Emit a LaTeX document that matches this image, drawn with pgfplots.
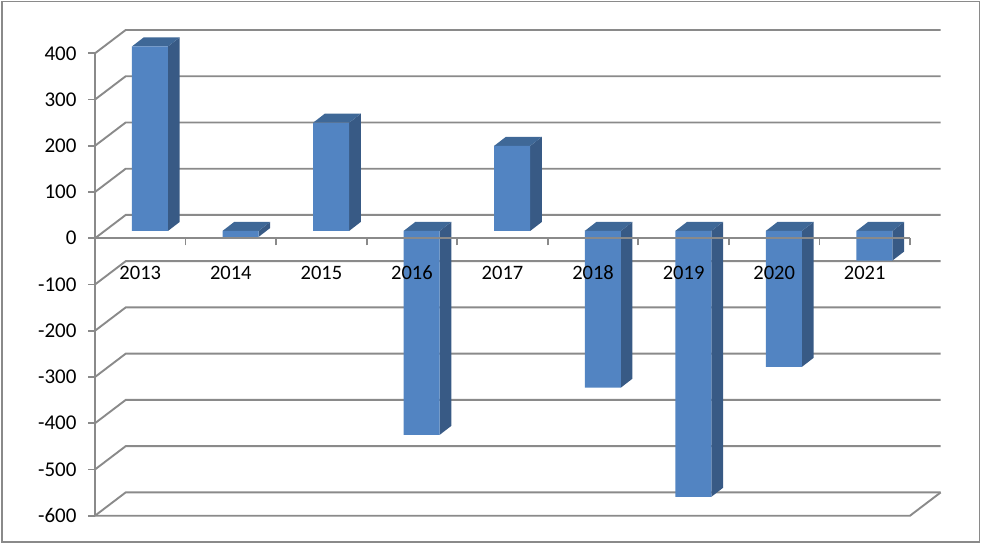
\documentclass[border=0pt]{standalone}
\usepackage{pgfplots}
\usepackage{pgfplotstable}
\usepackage{fontspec}
\setmainfont{Carlito}
\pgfplotsset{compat=1.18}
\definecolor{barfront}{HTML}{5284C2}
\definecolor{barside}{HTML}{385A85}
\definecolor{bartop}{HTML}{3F6897}
\definecolor{gridgray}{HTML}{8A8A8A}
\pgfplotstableread{
cat value
1 399
2 -13
3 234
4 -441
5 184
6 -339
7 -575
8 -294
9 -64
}\bardata
% depth offsets, in axis units
\def\bx{0.107}\def\by{15.8}\def\hw{0.199}\def\dx{0.129}\def\dy{19.5}
\newcommand\barsides[2]{%
  \pgfmathsetmacro\xa{#1+\bx-\hw}\pgfmathsetmacro\xb{#1+\bx+\hw}%
  \pgfmathsetmacro\xc{\xb+\dx}\pgfmathsetmacro\xd{\xa+\dx}%
  \pgfmathsetmacro\ya{\by}\pgfmathsetmacro\yb{#2+\by}%
  \pgfmathsetmacro\yhi{max(\ya,\yb)}%
  \pgfmathsetmacro\yhib{\yhi+\dy}%
  \pgfmathsetmacro\yab{\ya+\dy}\pgfmathsetmacro\ybb{\yb+\dy}%
  \edef\temp{%
    \noexpand\addplot[fill=barside,draw=none,forget plot] coordinates {(\xb,\ya) (\xc,\yab) (\xc,\ybb) (\xb,\yb)} --cycle;
    \noexpand\addplot[fill=bartop,draw=none,forget plot] coordinates {(\xa,\yhi) (\xb,\yhi) (\xc,\yhib) (\xd,\yhib)} --cycle;
  }\temp}
\newcommand\wall[1]{%
  \pgfmathsetmacro\vb{#1+50.4}%
  \edef\temp{\noexpand\addplot[gridgray,line width=1.9pt,forget plot] coordinates {(0.5,#1) (0.839,\vb) (9.839,\vb)};}\temp}
\begin{document}
\begin{tikzpicture}[x=1pt,y=1pt]
\path[use as bounding box] (0,0) rectangle (981,543);
\draw[gridgray,line width=1.7pt] (1.8,1.2) rectangle (979.4,541.6);
\begin{axis}[
  at={(95pt,27.3pt)},anchor=south west,
  scale only axis,width=815pt,height=462.4pt,
  xmin=0.5,xmax=9.5,ymin=-600,ymax=400,
  clip=false,axis on top=true,
  axis x line=middle,axis y line=left,
  axis line style={-,gridgray},
  x axis line style={line width=1.9pt},
  y axis line style={line width=1.9pt},
  tick style={gridgray,line width=1.7pt},
  minor tick style={gridgray,line width=1.7pt},
  tick align=outside,major tick length=7pt,minor tick length=7pt,
  xtick={1,...,9},xticklabels={2013,2014,2015,2016,2017,2018,2019,2020,2021},
  minor xtick={0.5,1.5,...,9.5},
  major x tick style={draw=none},
  ytick={-600,-500,...,400},
  scaled y ticks=false,
  /pgf/number format/assume math mode=true,
  xticklabel style={font=\fontsize{20.5}{20.5}\selectfont,yshift=-17pt},
  yticklabel style={font=\fontsize{21}{21}\selectfont,/pgf/number format/1000 sep={},xshift=-8pt},
]
\wall{400}\wall{300}\wall{200}\wall{100}\wall{0}\wall{-100}
\wall{-200}\wall{-300}\wall{-400}\wall{-500}\wall{-600}
\addplot[gridgray,line width=1.9pt,forget plot] coordinates {(0.5,-600) (9.5,-600) (9.839,-549.6)};
\barsides{1}{399}\barsides{2}{-13}\barsides{3}{234}\barsides{4}{-441}\barsides{5}{184}
\barsides{6}{-339}\barsides{7}{-575}\barsides{8}{-294}\barsides{9}{-64}
\addplot[ybar,bar width=36pt,bar shift=0pt,fill=barfront,draw=none,xshift=9.7pt,yshift=7.3pt]
  table[x=cat,y=value] {\bardata};
\end{axis}
\end{tikzpicture}
\end{document}
